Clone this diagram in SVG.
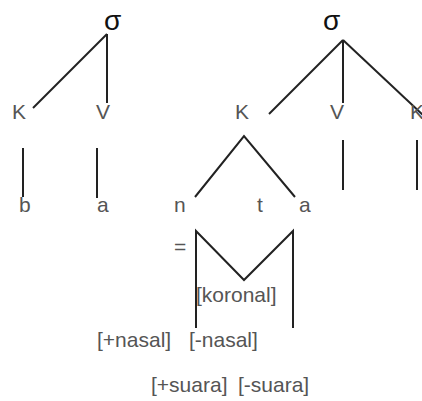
<svg xmlns="http://www.w3.org/2000/svg" width="422" height="401" viewBox="0 0 422 401">
<style>
text{font-family:"Liberation Sans",Arial,sans-serif;font-size:21px;fill:#555}
.sig{font-size:28px;fill:#111}
line,polyline{stroke:#222;stroke-width:2;fill:none}
</style>
<rect width="422" height="401" fill="#fff"/>
<g id="connectors">
<line x1="107" y1="34" x2="33" y2="108"/>
<line x1="107" y1="34" x2="107" y2="103"/>
<line x1="23" y1="148" x2="23" y2="197"/>
<line x1="97" y1="148" x2="97" y2="198"/>
<line x1="343" y1="40" x2="269" y2="114"/>
<line x1="343" y1="40" x2="343" y2="103"/>
<line x1="343" y1="40" x2="423" y2="115"/>
<polyline points="195,197 244,136 295,197"/>
<line x1="343" y1="140" x2="343" y2="190"/>
<line x1="417" y1="140" x2="417" y2="190"/>
<polyline points="196,328 196,231 244,280 293,231 293,328"/>
</g>
<g id="sigma1"><text class="sig" x="104" y="30">σ</text></g>
<g id="sigma2"><text class="sig" x="323" y="30">σ</text></g>
<g id="K1"><text x="12" y="119">K</text></g>
<g id="V1"><text x="96" y="119">V</text></g>
<g id="K2"><text x="235" y="119">K</text></g>
<g id="V2"><text x="330" y="119">V</text></g>
<g id="K3"><text x="410" y="119">K</text></g>
<g id="b"><text x="19" y="212">b</text></g>
<g id="a1"><text x="97" y="212">a</text></g>
<g id="n"><text x="174" y="212">n</text></g>
<g id="t"><text x="257" y="212">t</text></g>
<g id="a2"><text x="299" y="212">a</text></g>
<g id="eq"><text x="174" y="254">=</text></g>
<g id="koronal"><text x="196" y="302">[koronal]</text></g>
<g id="nasal1"><text x="97" y="347">[+nasal]</text></g>
<g id="nasal2"><text x="189" y="347">[-nasal]</text></g>
<g id="suara1"><text x="151" y="392">[+suara]</text></g>
<g id="suara2"><text x="238" y="392">[-suara]</text></g>
</svg>
